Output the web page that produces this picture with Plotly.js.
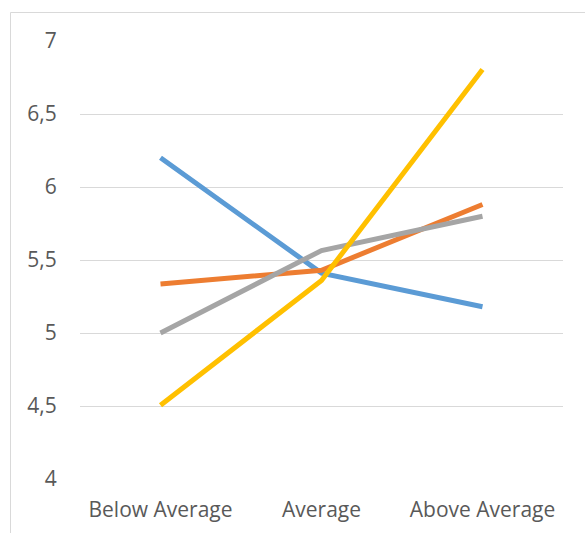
<!DOCTYPE html>
<html>
<head>
<meta charset="utf-8">
<script src="https://cdn.plot.ly/plotly-3.0.1.min.js"></script>
<style>html,body{margin:0;padding:0;background:#fff;}#chart{width:585px;height:533px;}</style>
</head>
<body>
<div id="chart"></div>
<script>
const categories = ["Below Average", "Average", "Above Average"];
const seriesBlue = [6.2, 5.41, 5.18];
const seriesOrange = [5.335, 5.43, 5.88];
const seriesGray = [5.0, 5.565, 5.80];
const seriesYellow = [4.505, 5.36, 6.805];
const yTicks = [4, 4.5, 5, 5.5, 6, 6.5, 7];

const colors = ["#5B9BD5", "#ED7D31", "#A5A5A5", "#FFC000"];
const allSeries = [seriesBlue, seriesOrange, seriesGray, seriesYellow];

const traces = allSeries.map((s, i) => ({
  x: categories, y: s, type: "scatter", mode: "lines",
  line: {color: colors[i], width: 5},
  hoverinfo: "skip", showlegend: false
}));

const L = 80, R = 563, T = 41, B = 479;
const pw = R - L, ph = B - T;

const layout = {
  width: 585, height: 533,
  margin: {l: L, r: 585 - R, t: T, b: 533 - B, pad: 0},
  paper_bgcolor: "#fff", plot_bgcolor: "#fff",
  separators: ", ",
  font: {family: "Open Sans, sans-serif", size: 21, color: "#595959"},
  xaxis: {
    type: "category", range: [-0.5, 2.5], showgrid: false, zeroline: false,
    showline: false, ticks: "outside", ticklen: 12, tickcolor: "rgba(0,0,0,0)",
    tickfont: {size: 21, color: "#595959"}, fixedrange: true
  },
  yaxis: {
    range: [4, 7], tickvals: yTicks, showgrid: true, gridcolor: "#d9d9d9", gridwidth: 1,
    zeroline: false, showline: false, ticks: "outside", ticklen: 18, tickcolor: "rgba(0,0,0,0)",
    tickfont: {size: 21, color: "#595959"}, fixedrange: true
  },
  shapes: [{
    type: "rect", xref: "paper", yref: "paper",
    x0: (10.5 - L) / pw, x1: (600 - L) / pw,
    y0: (B - 560) / ph, y1: (B - 12.5) / ph,
    line: {color: "#d9d9d9", width: 1}, fillcolor: "rgba(0,0,0,0)", layer: "below"
  }]
};

Plotly.newPlot("chart", traces, layout, {staticPlot: true, displayModeBar: false});
</script>
</body>
</html>
